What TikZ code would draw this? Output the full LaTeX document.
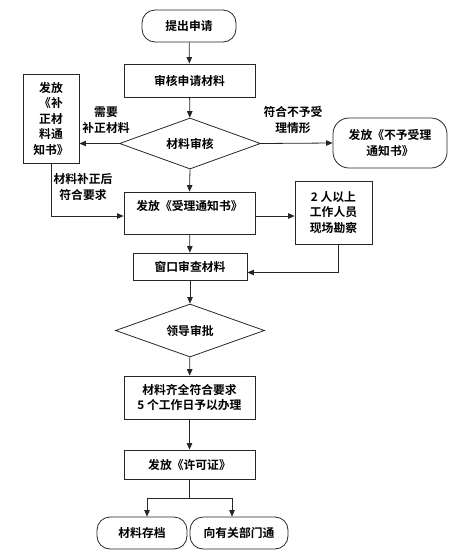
\documentclass[tikz,border=0pt]{standalone}
\usepackage{fontspec}
\setmainfont{Noto Sans CJK SC}[BoldFont={Noto Sans CJK SC Bold}]
\usetikzlibrary{shapes.geometric,arrows.meta}

\begin{document}
\begin{tikzpicture}[x=1pt,y=-1pt,
  font=\bfseries\fontsize{11.8}{15.5}\selectfont,
  every node/.style={inner sep=0pt,align=center},
  procbox/.style={draw,minimum width=131pt},
  termbox/.style={draw,rounded corners=13pt},
  decbox/.style={draw,diamond,aspect=2.8},
  arr/.style={-{Triangle[length=6.5pt,width=5.5pt]}},
  line width=0.8pt,draw=black!85]

\useasboundingbox (0,0) rectangle (458,560);

% main column
\node[termbox,minimum width=94pt,minimum height=32pt] (start) at (189,26) {提出申请};
\node[procbox,minimum height=33pt] (review) at (189.5,80.5) {审核申请材料};
\node[decbox,minimum width=141pt,minimum height=51pt] (check) at (190,143.5) {材料审核};
\node[procbox,minimum height=42pt] (sl) at (189.5,213) {发放《受理通知书》\\\mbox{}};
\node[draw,minimum width=114pt,minimum height=27pt] (ck) at (190,266.5) {窗口审查材料};
\node[decbox,minimum width=149pt,minimum height=53pt] (ld) at (190,330.5) {领导审批};
\node[procbox,minimum height=43pt] (ok) at (189.5,397.5) {材料齐全符合要求\\5 个工作日予以办理};
\node[procbox,minimum height=29pt] (xk) at (189.5,464.5) {发放《许可证》};
\node[termbox,minimum width=90pt,minimum height=32pt] (cd) at (142,533) {材料存档};
\node[termbox,minimum width=98pt,minimum height=32pt] (tz) at (239,533) {向有关部门通};

% side boxes
\node[draw,minimum width=56pt,minimum height=89pt] (bz) at (51,118.5) {发放\\《补\\正材\\料通\\知书》};
\node[termbox,rounded corners=16pt,minimum width=114pt,minimum height=50pt] (nosl) at (390,143) {发放《不予受理\\通知书》};
\node[draw,minimum width=77pt,minimum height=63pt] (kc) at (333.5,212.5) {2 人以上\\工作人员\\现场勘察};

% labels
\node (lbz) at (106,120) {需要\\补正材料};
\node (lnosl) at (293,120) {符合不予受\\理情形};
\node (lfh) at (83,187) {材料补正后\\符合要求};

% connectors
\draw[arr] (start) -- (review);
\draw[arr] (review) -- (check);
\draw[arr] (check.west) -- (check.west -| bz.east);
\draw[arr] (check.east) -- (nosl.west);
\draw[arr] (check.south) -- (sl.north);
\draw[arr] (bz.south) |- ([yshift=-3pt]sl.west);
\draw[arr] ([yshift=-3pt]sl.east) -- ([yshift=-3pt]sl.east -| kc.west);
\draw[arr] (sl) -- (ck);
\draw[arr] ([xshift=5pt]kc.south) |- ([yshift=-6pt]ck.east);
\draw[arr] (ck) -- (ld);
\draw[arr] (ld) -- (ok);
\draw[arr] (ok) -- (xk);
\coordinate (fork) at ([yshift=-19pt]xk.south);
\draw (xk.south) -- (fork);
\draw[arr] (fork) -| ([xshift=5pt]cd.north);
\draw[arr] (fork) -| ([xshift=-7pt]tz.north);

\end{tikzpicture}
\end{document}
